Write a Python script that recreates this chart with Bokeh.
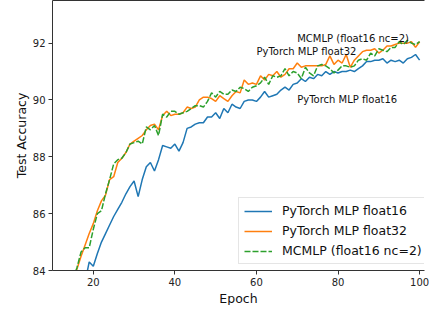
from bokeh.plotting import figure
from bokeh.models import Range1d, FixedTicker, LinearAxis, Legend, LegendItem, Label, Title
from bokeh.embed import file_html
from bokeh.resources import INLINE

# ---- data ----
epochs_f16 = list(range(18, 101))
acc_f16 = [83.6, 84.3, 84.15,
           84.6, 85.0, 85.3, 85.6, 85.9, 86.15, 86.4, 86.7, 86.95, 87.15,
           86.6, 87.2, 87.65, 87.8, 87.5, 87.9, 88.4, 88.35, 88.3, 88.45,
           88.2, 88.5, 89.0, 89.05, 89.15, 89.2, 89.2, 89.4, 89.4, 89.55,
           89.35, 89.7, 89.55, 89.85, 89.75, 89.7, 89.95, 90.0, 90.0, 89.95,
           90.1, 90.3, 90.1, 90.15, 90.2, 90.35, 90.45, 90.35, 90.55, 90.6,
           90.75, 90.65, 90.8, 90.75, 90.9, 90.85, 91.0, 90.9, 91.0, 90.95,
           91.0, 91.0, 91.05, 91.0, 91.1, 91.2, 91.35, 91.35, 91.4, 91.4,
           91.45, 91.3, 91.4, 91.35, 91.4, 91.3, 91.45, 91.5, 91.6, 91.4]

epochs_f32 = list(range(15, 101))
acc_f32 = [83.7, 84.05, 84.5, 84.9, 85.3, 85.65,
           86.1, 86.45, 86.65, 87.2, 87.3, 87.8, 87.95, 88.15, 88.45, 88.55,
           88.65, 88.75, 88.95, 89.1, 89.15, 88.95, 89.45, 89.6, 89.45, 89.5,
           89.5, 89.55, 89.75, 89.7, 89.75, 90.0, 90.1, 90.1, 90.05, 89.95,
           90.15, 90.05, 89.95, 90.15, 90.3, 90.25, 90.7, 90.55, 90.6, 90.55,
           90.85, 90.7, 90.9, 90.85, 91.0, 90.8, 90.9, 91.1, 91.1, 91.3,
           91.15, 91.2, 91.2, 91.2, 91.2, 91.2, 91.25, 91.55, 91.25, 91.4,
           91.3, 91.6, 91.15, 91.4, 91.55, 91.7, 91.75, 91.75, 91.8, 91.65,
           91.75, 91.9, 91.9, 91.95, 92.0, 92.0, 92.0, 92.05, 91.85, 92.05]

epochs_mc = list(range(15, 101))
acc_mc = [83.7, 84.1, 84.65, 84.8, 84.8, 85.45,
          86.0, 86.1, 86.7, 87.2, 87.75, 87.9, 87.95, 88.15, 88.45, 88.5,
          88.55, 88.45, 89.05, 88.95, 89.1, 88.75, 89.5, 89.4, 89.6, 89.6,
          89.5, 89.55, 89.6, 89.7, 89.8, 89.8, 89.75, 89.95, 90.25, 90.1,
          90.3, 90.2, 90.2, 90.35, 90.3, 90.45, 90.4, 90.3, 90.45, 90.5,
          90.6, 90.8, 90.55, 90.85, 90.8, 90.85, 91.1, 90.85, 91.0, 90.95,
          90.75, 91.15, 90.95, 90.85, 91.2, 91.25, 91.2, 91.1, 90.95, 91.05,
          91.2, 91.2, 91.15, 91.2, 91.4, 91.45, 91.4, 91.65, 91.55, 91.8,
          91.75, 91.7, 91.85, 91.85, 92.05, 91.95, 92.1, 92.0, 91.95, 92.05]

series_names = ["PyTorch MLP float16", "PyTorch MLP float32", "MCMLP (float16 nc=2)"]
series_colors = ["#1f77b4", "#ff7f0e", "#2ca02c"]

x_ticks = [20, 40, 60, 80, 100]
y_ticks = [84, 86, 88, 90, 92]
x_label = "Epoch"
y_label = "Test Accuracy"

# annotation texts and their anchor points (data units)
ann_texts = ["MCMLP (float16 nc=2)", "PyTorch MLP float32", "PyTorch MLP float16"]
ann_x = [70, 60, 70]
ann_y = [92.18, 91.72, 90.0]

FONT = "DejaVu Sans"

p = figure(width=429, height=305, output_backend="svg", toolbar_location=None,
           x_range=Range1d(10, 101.2), y_range=Range1d(84, 93.5),
           min_border_left=52, min_border_right=5, min_border_top=0, min_border_bottom=0)
p.outline_line_color = None
p.xgrid.visible = False
p.ygrid.visible = False
p.background_fill_color = "white"
p.border_fill_color = "white"

for ax, ticks in ((p.xaxis[0], x_ticks), (p.yaxis[0], y_ticks)):
    ax.ticker = FixedTicker(ticks=ticks)
    ax.axis_label_text_font = FONT
    ax.axis_label_text_font_size = "12.5px"
    ax.axis_label_text_font_style = "normal"
    ax.axis_label_text_color = "#111111"
    ax.major_label_text_font = FONT
    ax.major_label_text_font_size = "10px"
    ax.major_label_text_color = "#222222"
    ax.major_tick_in = 0
    ax.major_tick_out = 4
    ax.minor_tick_in = 0
    ax.minor_tick_out = 0
    ax.axis_line_color = "#333333"
    ax.major_tick_line_color = "#333333"
    ax.axis_line_width = 1
    ax.major_label_standoff = 3

p.yaxis[0].axis_label = y_label
p.yaxis[0].axis_label_standoff = 1

# x-axis title as a compact below-panel title
p.add_layout(Title(text=x_label, align="center", text_font=FONT, text_font_size="12.5px",
                   text_font_style="normal", text_color="#111111", standoff=0, offset=10),
             "below")

# top spine
top = LinearAxis(ticker=FixedTicker(ticks=[]), major_tick_out=0, major_tick_in=0,
                 minor_tick_out=0, minor_tick_in=0, major_label_text_font_size="0px",
                 axis_line_color="#333333")
p.add_layout(top, "above")

r1 = p.line(epochs_f16, acc_f16, line_color=series_colors[0], line_width=1.5)
r2 = p.line(epochs_f32, acc_f32, line_color=series_colors[1], line_width=1.5)
r3 = p.line(epochs_mc, acc_mc, line_color=series_colors[2], line_width=1.5, line_dash="6 2")

for t, x, y in zip(ann_texts, ann_x, ann_y):
    p.add_layout(Label(x=x, y=y, text=t, text_font=FONT, text_font_size="10px",
                       text_color="#111111", text_baseline="alphabetic", text_align="left"))

legend = Legend(items=[LegendItem(label=series_names[0], renderers=[r1]),
                       LegendItem(label=series_names[1], renderers=[r2]),
                       LegendItem(label=series_names[2], renderers=[r3])],
                location=(186, 6))
legend.label_text_font = FONT
legend.label_text_font_size = "12.5px"
legend.label_text_color = "#111111"
legend.glyph_width = 28
legend.glyph_height = 14
legend.label_height = 14
legend.label_standoff = 10
legend.spacing = 5
legend.padding = 5
legend.margin = 0
legend.border_line_color = "#cccccc"
legend.border_line_width = 1
legend.background_fill_color = "white"
legend.background_fill_alpha = 0.8
p.add_layout(legend, "center")

open("out.html", "w").write(file_html(p, INLINE))
